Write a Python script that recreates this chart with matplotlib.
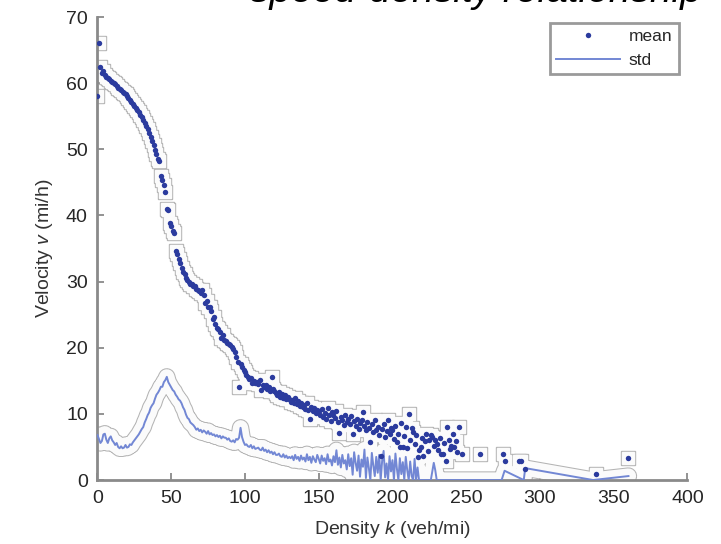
import matplotlib
matplotlib.use("Agg")
from matplotlib import pyplot as plt

plt.rcParams["font.family"] = ["Liberation Sans", "DejaVu Sans"]
plt.rcParams["mathtext.fontset"] = "custom"
plt.rcParams["mathtext.rm"] = "Liberation Sans"
plt.rcParams["mathtext.it"] = "Liberation Sans:italic"

# mean velocity, one value per density step 0..245 (veh/mi)
mean_v = [
    58.0, 66.0, 62.4, 61.5, 61.8, 61.2, 61.0, 60.8, 60.6, 60.4,
    60.2, 60.0, 59.8, 59.6, 59.3, 59.1, 58.9, 58.7, 58.5, 58.3,
    58.0, 57.7, 57.5, 57.1, 56.8, 56.5, 56.2, 55.9, 55.6, 55.2,
    54.9, 54.4, 54.0, 53.5, 53.0, 52.5, 51.9, 51.3, 50.6, 49.9,
    49.3, 48.6, 48.2, 46.0, 45.4, 44.6, 43.5, 41.0, 40.8, 38.9,
    38.4, 37.6, 37.3, 34.6, 34.2, 33.4, 32.8, 32.1, 31.5, 31.1,
    30.5, 30.2, 30.0, 29.7, 29.6, 29.3, 29.4, 28.9, 28.7, 28.6,
    28.3, 28.7, 28.0, 26.8, 27.1, 26.2, 26.2, 25.6, 24.3, 24.6,
    23.6, 23.0, 22.8, 22.4, 21.5, 21.9, 21.2, 21.0, 20.7, 20.6,
    20.4, 20.1, 19.8, 19.3, 18.6, 17.8, 14.1, 17.5, 17.1, 16.6,
    16.3, 15.9, 15.6, 15.3, 15.4, 14.7, 15.0, 14.6, 14.8, 14.5,
    15.1, 13.6, 14.3, 14.0, 14.4, 13.8, 14.1, 13.5, 15.6, 13.7,
    13.4, 13.1, 12.9, 13.3, 12.6, 13.0, 12.4, 12.8, 12.2, 12.5,
    12.3, 11.8, 12.1, 11.6, 12.4, 11.5, 11.9, 11.2, 11.7, 11.0,
    11.3, 10.8, 11.6, 10.6, 9.2, 11.1, 10.4, 10.9, 10.1, 10.6,
    10.5, 9.9, 10.8, 9.6, 10.2, 9.3, 10.9, 9.8, 8.9, 10.3,
    9.8, 9.4, 10.4, 8.8, 7.1, 9.6, 9.0, 8.3, 9.9, 8.7,
    9.2, 8.4, 9.7, 7.0, 8.9, 8.1, 9.3, 7.7, 8.6, 9.0,
    10.3, 8.2, 7.5, 8.8, 7.9, 5.7, 8.4, 7.2, 9.1, 7.6,
    8.0, 6.8, 3.6, 7.7, 8.5, 6.5, 7.4, 9.0, 6.9, 7.8,
    7.5, 6.2, 8.1, 5.8, 7.0, 5.0, 8.6, 5.0, 6.6, 8.0,
    4.8, 10.0, 6.1, 7.9, 7.3, 5.4, 6.8, 3.5, 4.6, 5.0,
    6.3, 3.6, 5.9, 7.0, 4.4, 6.0, 6.8, 6.5, 5.2, 6.0,
    5.5, 4.5, 6.3, 3.9, 4.0, 5.6, 2.9, 8.0, 6.0, 4.7,
    5.2, 7.0, 5.0, 5.9, 4.3, 8.0,
]
mean_k = list(range(len(mean_v)))
# sparse high-density points
tail_k = [247, 259, 275, 276, 286, 287, 290, 338, 360]
tail_v = [3.9, 3.9, 3.9, 2.9, 2.9, 2.9, 1.6, 0.9, 3.3]

# standard deviation, one value per density step 0..235
std_v = [
    6.8, 6.2, 5.6, 5.9, 6.9, 7.0, 6.1, 5.6, 6.3, 6.6,
    6.0, 5.7, 5.3, 5.6, 5.0, 4.8, 5.1, 4.8, 4.9, 5.3,
    4.9, 5.0, 5.4, 5.3, 5.7, 6.0, 6.3, 6.6, 6.9, 7.3,
    7.7, 8.0, 8.7, 9.2, 9.8, 10.2, 10.9, 11.3, 11.6, 12.3,
    12.9, 13.2, 13.6, 14.1, 14.1, 14.8, 15.1, 15.6, 14.8, 14.4,
    14.0, 13.6, 13.4, 12.9, 12.6, 12.2, 12.0, 11.6, 11.0, 10.6,
    9.9, 9.4, 9.2, 8.7, 8.5, 8.3, 8.0, 7.6, 7.8, 7.4,
    7.6, 7.2, 7.5, 7.3, 7.0, 7.4, 6.9, 7.1, 6.8, 6.9,
    6.6, 6.8, 6.5, 6.7, 6.3, 6.6, 6.4, 6.4, 6.1, 6.3,
    5.9, 5.8, 6.0, 5.7, 6.2, 6.1, 6.4, 7.9, 6.5, 5.8,
    5.3, 5.4, 5.1, 5.0, 5.3, 4.8, 5.1, 4.7, 4.8, 4.9,
    4.6, 4.5, 4.9, 4.4, 4.6, 4.2, 4.5, 4.1, 4.3, 3.9,
    4.2, 3.8, 3.8, 4.0, 3.6, 3.5, 3.9, 3.4, 3.7, 3.3,
    3.5, 3.3, 3.6, 3.0, 3.8, 3.2, 3.5, 2.9, 3.7, 3.1,
    3.4, 2.8, 3.9, 3.0, 3.5, 2.6, 3.6, 3.1, 2.7, 3.8,
    3.2, 2.5, 3.7, 2.9, 3.3, 2.4, 3.9, 2.8, 3.1, 2.2,
    3.6, 2.7, 4.5, 2.3, 3.4, 1.9, 3.8, 2.5, 3.0, 1.6,
    3.9, 2.1, 3.3, 0.8, 4.2, 2.6, 1.4, 3.7, 0.5, 3.1,
    2.0, 4.6, 0.3, 3.4, 1.8, 0.0, 4.1, 2.2, 0.6, 3.5,
    1.1, 3.8, 0.0, 2.9, 4.4, 0.4, 2.5, 0.0, 3.6, 1.3,
    3.0, 0.0, 4.0, 1.7, 0.0, 3.3, 0.9, 2.7, 0.0, 3.5,
    1.5, 0.0, 2.8, 0.6, 0.0, 3.2, 0.0, 1.9, 0.0, 0.0,
    0.0, 0.0, 0.0, 0.0, 0.0, 0.0, 0.0, 1.3, 2.6, 1.5,
    0.0, 0.0, 0.0, 0.0, 0.0, 0.0,
]
std_k = list(range(len(std_v)))
std_tail_k = [250, 274, 276, 289, 290, 336, 360]
std_tail_v = [0.0, 0.0, 1.4, 0.0, 1.8, 0.0, 0.6]

x_ticks = [0, 50, 100, 150, 200, 250, 300, 350, 400]
y_ticks = [0, 10, 20, 30, 40, 50, 60, 70]

mean_color = "#2b3b9e"
std_color = "#7287d4"
halo_edge = "#b4b4b4"
axis_gray = "#8a8a8a"

fig = plt.figure(figsize=(7.21, 5.44), dpi=100)
ax = fig.add_axes([0.1352, 0.1176, 0.8183, 0.8511])

sk = std_k + std_tail_k
sv = std_v + std_tail_v
mk = mean_k + tail_k
mv = mean_v + tail_v

# white glow with thin grey outline around the data (scan artefact)
ax.plot(sk, sv, color=halo_edge, lw=12.5, solid_joinstyle="round",
        solid_capstyle="round", zorder=1)
ax.plot(mk, mv, "s", color=halo_edge, ms=9.5, zorder=1)
ax.plot(sk, sv, color="#fbfbfb", lw=11, solid_joinstyle="round",
        solid_capstyle="round", zorder=2)
ax.plot(mk, mv, "s", color="#fbfbfb", ms=8.3, zorder=2)

ax.plot(sk, sv, color=std_color, lw=1.4, zorder=3, label="std")
ax.plot(mk, mv, "o", color=mean_color, ms=3.9, mew=0, zorder=4, label="mean")

ax.set_xlim(0, 400)
ax.set_ylim(0, 70)
ax.set_xticks(x_ticks)
ax.set_yticks(y_ticks)

for side in ["top", "right"]:
    ax.spines[side].set_visible(False)
for side in ["left", "bottom"]:
    ax.spines[side].set_color(axis_gray)
    ax.spines[side].set_linewidth(2)
ax.tick_params(direction="in", length=5, width=1.3, color=axis_gray,
               labelsize=14, labelcolor="#262626", pad=7)

ax.set_xlabel("Density $k$ (veh/mi)", fontsize=14, color="#333333", labelpad=9)
ax.set_ylabel("Velocity $v$ (mi/h)", fontsize=14, color="#333333", labelpad=8)

handles, labels = ax.get_legend_handles_labels()
leg = ax.legend(handles[::-1], labels[::-1], loc="upper right",
                bbox_to_anchor=(0.985, 0.988), borderaxespad=0,
                fontsize=12.5, numpoints=1, handlelength=3.7,
                handletextpad=0.5, borderpad=0.35, labelspacing=0.5,
                fancybox=False, framealpha=1)
leg.get_frame().set_edgecolor("#9a9a9a")
leg.get_frame().set_linewidth(2)
for t in leg.get_texts():
    t.set_color("#262626")

# title of the source figure, cut off at the top edge
fig.text(250 / 721, 1 - 2 / 544, "speed-density relationship", fontsize=28,
         style="italic", va="baseline", ha="left", color="black")

fig.savefig("out.png", dpi=100)
